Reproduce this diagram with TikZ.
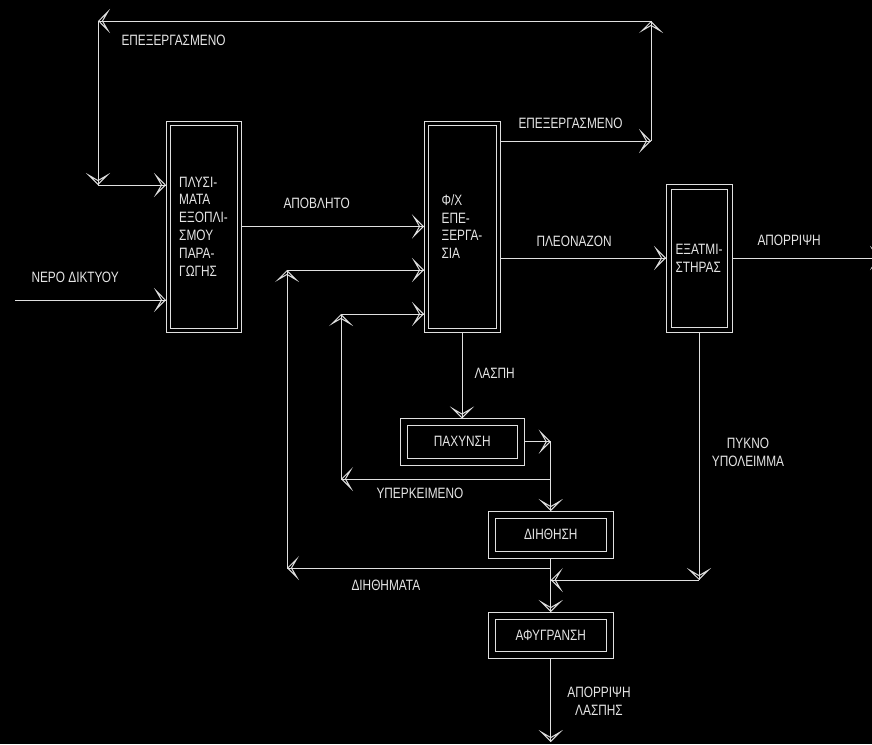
\documentclass[tikz,border=0pt]{standalone}
\usepackage{fontspec}
\setmainfont{Liberation Sans}[FakeStretch=0.79]
\usepackage{tikz}
\usetikzlibrary{arrows.meta}

\definecolor{linec}{gray}{0.88}
\definecolor{txt}{gray}{0.9}

\tikzset{
  flow/.style={draw=linec, -{Stealth[open, length=12pt, width=24pt, inset=7pt]},
    postaction={draw=linec, -}},
  unit/.style={draw=linec, double=black, double distance=#1,
    outer sep=0.5*#1+0.5pt, inner sep=0pt, align=left},
  lbl/.style={anchor=west, inner sep=0pt}
}

\begin{document}
\begin{tikzpicture}[x=1pt, y=-1pt, line width=1pt,
    every node/.style={font=\fontsize{15}{17.8}\selectfont, text=txt}]
			\useasboundingbox (0,0) rectangle (872,744);
			\fill[black] (0,0) rectangle (872,744);
			%process units
			\node[unit=3pt, minimum width=71pt, minimum height=207pt] (wash) at (203.5,226.5)
				{ΠΛΥΣΙ-\\ΜΑΤΑ\\ΕΞΟΠΛΙ-\\ΣΜΟΥ\\ΠΑΡΑ-\\ΓΩΓΗΣ};
			\node[unit=3pt, minimum width=72pt, minimum height=207pt] (treat) at (462,226.5)
				{Φ/Χ\\ΕΠΕ-\\ΞΕΡΓΑ-\\ΣΙΑ};
			\node[unit=4pt, minimum width=61pt, minimum height=143pt] (evap) at (699,258)
				{ΕΞΑΤΜΙ-\\ΣΤΗΡΑΣ};
			\node[unit=6pt, minimum width=117.5pt, minimum height=39.5pt] (thick) at (462.25,441.75) {ΠΑΧΥΝΣΗ};
			\node[unit=6pt, minimum width=117.5pt, minimum height=40pt] (filt) at (550.75,534.5) {ΔΙΗΘΗΣΗ};
			\node[unit=6pt, minimum width=117.5pt, minimum height=39.5pt] (dewat) at (550.75,635.25) {ΑΦΥΓΡΑΝΣΗ};
			%free ends and corners
			\coordinate (mains) at (15,300);
			\coordinate (ret1) at (651,141);
			\coordinate (ret2) at (651,21);
			\coordinate (ret3) at (98,21);
			\coordinate (ret4) at (98,185);
			\coordinate (drain) at (882,258);
			\coordinate (thickout) at (thick.east -| filt.north);
			\coordinate (supbr) at (filt.north |- 0,479);
			\coordinate (sup1) at (341,479);
			\coordinate (sup2) at (341,314);
			\coordinate (filbr) at (filt.south |- 0,568);
			\coordinate (fil1) at (287,568);
			\coordinate (fil2) at (287,270);
			\coordinate (res1) at (evap.south |- 0,580);
			\coordinate (sludge) at (550.75,742);
			%main line
			\draw[flow] (mains) -- (mains -| wash.west);
			\draw[flow] (wash.east) -- (treat.west);
			\draw[flow] (treat.east |- evap.west) -- (evap.west);
			\draw[flow] (evap.east) -- (drain);
			%treated water back to washing
			\draw[flow] (ret1 -| treat.east) -- (ret1);
			\draw[flow] (ret1) -- (ret2);
			\draw[flow] (ret2) -- (ret3);
			\draw[flow] (ret3) -- (ret4);
			\draw[flow] (ret4) -- (ret4 -| wash.west);
			%sludge line
			\draw[flow] (treat.south) -- (treat.south |- thick.north);
			\draw[flow] (thick.east) -- (thickout);
			\draw[flow] (thickout) -- (filt.north);
			\draw[flow] (supbr) -- (sup1);
			\draw[flow] (sup1) -- (sup2);
			\draw[flow] (sup2) -- (sup2 -| treat.west);
			\draw[flow] (filt.south) -- (dewat.north);
			\draw[flow] (filbr) -- (fil1);
			\draw[flow] (fil1) -- (fil2);
			\draw[flow] (fil2) -- (fil2 -| treat.west);
			\draw[flow] (evap.south) -- (res1);
			\draw[flow] (res1) -- (res1 -| dewat.north);
			\draw[flow] (dewat.south) -- (sludge);
			%labels
			\node[lbl] (ltop) at (121,40) {ΕΠΕΞΕΡΓΑΣΜΕΝΟ};
			\node[lbl] (lret) at (518,123) {ΕΠΕΞΕΡΓΑΣΜΕΝΟ};
			\node[lbl] (lmains) at (31,277) {ΝΕΡΟ ΔΙΚΤΥΟΥ};
			\node[lbl] (lwaste) at (283,203) {ΑΠΟΒΛΗΤΟ};
			\node[lbl] (lexcess) at (536,241) {ΠΛΕΟΝΑΖΟΝ};
			\node[lbl] (ldrain) at (757,240) {ΑΠΟΡΡΙΨΗ};
			\node[lbl] (lsludge) at (474,373) {ΛΑΣΠΗ};
			\node[lbl] (lsup) at (376,493) {ΥΠΕΡΚΕΙΜΕΝΟ};
			\node[lbl] (lfil) at (351,585) {ΔΙΗΘΗΜΑΤΑ};
			\node[align=center, inner sep=0pt] (lres) at (748,452) {ΠΥΚΝΟ\\ΥΠΟΛΕΙΜΜΑ};
			\node[align=center, inner sep=0pt] (lout) at (599,701) {ΑΠΟΡΡΙΨΗ\\ΛΑΣΠΗΣ};
		\end{tikzpicture}
\end{document}
